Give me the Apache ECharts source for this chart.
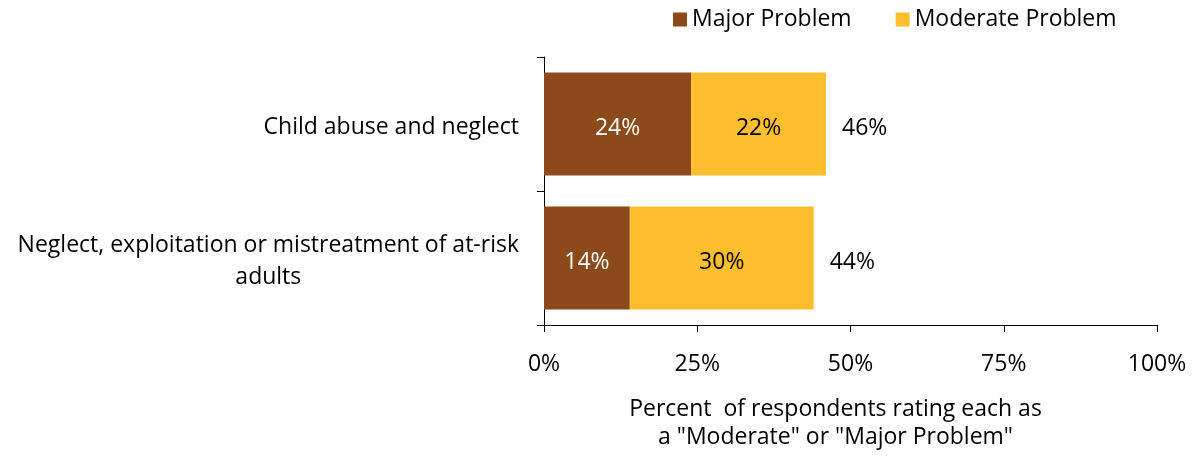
<!DOCTYPE html>
<html>
<head>
<meta charset="utf-8">
<script src="https://cdn.jsdelivr.net/npm/echarts@6/dist/echarts.min.js"></script>
<style>
  html, body { margin: 0; padding: 0; background: #fff; }
  #main { width: 1196px; height: 456px; }
</style>
</head>
<body>
<div id="main"></div>
<script>
// categories, top to bottom
const categories = ['Child abuse and neglect', 'Neglect, exploitation or mistreatment of at-risk\nadults'];
const majorValues = [24, 14];
const moderateValues = [22, 30];
const totalValues = [46, 44];
const xTicks = [0, 25, 50, 75, 100];

const FONT = 'Open Sans';
const FS = 23;

// 水平条形图，顶部类目在上
const chart = echarts.init(document.getElementById('main'));
const option = {
  animation: false,
  textStyle: { fontFamily: FONT },
  legend: {
    data: ['Major Problem', 'Moderate Problem'],
    top: 3,
    left: 668,
    icon: 'rect',
    itemWidth: 14,
    itemHeight: 14,
    itemGap: 44,
    textStyle: { fontSize: FS, color: '#000', fontFamily: FONT }
  },
  grid: { left: 544, right: 39, top: 57, bottom: 129 },
  xAxis: {
    type: 'value',
    min: xTicks[0],
    max: xTicks[xTicks.length - 1],
    interval: 25,
    splitLine: { show: false },
    axisLine: { show: true, lineStyle: { color: '#000', width: 1 } },
    axisTick: { show: true, length: 7, lineStyle: { color: '#000' } },
    axisLabel: { formatter: '{value}%', fontSize: FS, color: '#000', margin: 28 },
    name: 'Percent  of respondents rating each as\na "Moderate" or "Major Problem"',
    nameLocation: 'middle',
    nameGap: 70,
    nameTextStyle: { fontSize: FS, color: '#000', lineHeight: 28, padding: [0, 30, 0, 0] }
  },
  yAxis: {
    type: 'category',
    inverse: true,
    data: categories,
    axisLine: { show: true, lineStyle: { color: '#000', width: 1 } },
    axisTick: { show: true, length: 7, lineStyle: { color: '#000' } },
    axisLabel: {
      fontSize: FS,
      color: '#000',
      margin: 25,
      lineHeight: 32,
      formatter: function (v) {
        return v.split('\n').map(function (s) { return '{c|' + s + '}'; }).join('\n');
      },
      rich: { c: { align: 'center', fontSize: FS, lineHeight: 32, color: '#000', fontFamily: FONT, padding: [6, 0, 0, 0] } }
    }
  },
  series: [
    {
      name: 'Major Problem',
      type: 'bar',
      stack: 'total',
      barCategoryGap: '23%',
      data: majorValues,
      itemStyle: { color: '#8C4A1A' },
      label: { show: true, position: 'inside', offset: [0, 4], formatter: '{c}%', color: '#fff', fontSize: FS }
    },
    {
      name: 'Moderate Problem',
      type: 'bar',
      stack: 'total',
      data: moderateValues,
      itemStyle: { color: '#FFBE2E' },
      label: { show: true, position: 'inside', offset: [0, 4], formatter: '{c}%', color: '#000', fontSize: FS }
    },
    {
      name: 'Total',
      type: 'bar',
      stack: 'total',
      data: totalValues.map(function () { return 0; }),
      itemStyle: { color: 'transparent' },
      label: {
        show: true,
        position: 'right',
        distance: 16,
        offset: [0, 4],
        color: '#000',
        fontSize: FS,
        formatter: function (p) { return totalValues[p.dataIndex] + '%'; }
      }
    }
  ]
};
chart.setOption(option);
</script>
</body>
</html>
